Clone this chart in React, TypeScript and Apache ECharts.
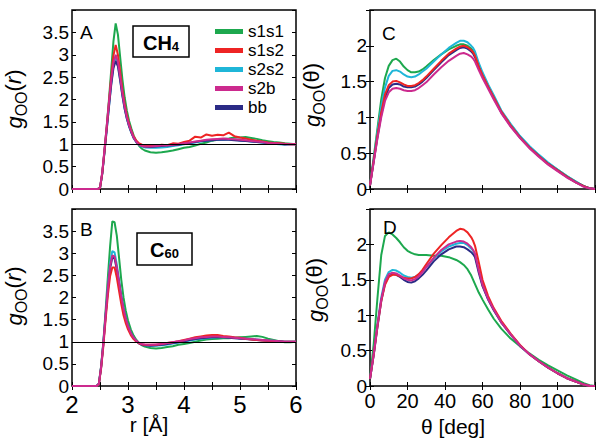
import React, { useEffect, useRef } from "react";
import * as echarts from "echarts";

const FONT = "'Liberation Sans', Arial, Helvetica, sans-serif";

const seriesNames = ["s1s1", "s1s2", "s2s2", "s2b", "bb"];
const seriesColors = ["#1da84e", "#ee2424", "#1fb6d8", "#cc2a8e", "#2b2b86"];
const drawOrder = [0, 2, 4, 1, 3];

// r grids (Å)
const rTail = [3.4, 3.5, 3.6, 3.7, 3.8, 3.9, 4.0, 4.1, 4.2, 4.3, 4.4, 4.5, 4.6, 4.7, 4.8, 4.9, 5.0, 5.1, 5.2, 5.3, 5.4, 5.5, 5.6, 5.7, 5.8, 5.9, 6.0];
const rPeakA = [2.0, 2.46, 2.5, 2.54, 2.58, 2.62, 2.66, 2.7, 2.74, 2.78, 2.82, 2.86, 2.9, 2.94, 2.98, 3.02, 3.06, 3.1, 3.15, 3.2, 3.25, 3.3];
const rPeakB = [2.0, 2.44, 2.48, 2.52, 2.56, 2.6, 2.64, 2.68, 2.72, 2.76, 2.8, 2.84, 2.88, 2.92, 2.96, 3.0, 3.05, 3.1, 3.15, 3.2, 3.25, 3.3];
const rA = [...rPeakA, ...rTail];
const rB = [...rPeakB, ...rTail];

// Panel A: CH4, g_OO(r)
const ch4_s1s1 = [0, 0, 0.02, 0.35, 0.85, 1.4, 2.0, 2.65, 3.3, 3.7, 3.45, 2.95, 2.45, 2.05, 1.75, 1.52, 1.35, 1.2, 1.06, 0.96, 0.9, 0.86,
  0.82, 0.81, 0.82, 0.84, 0.86, 0.89, 0.92, 0.94, 0.97, 1.01, 1.04, 1.08, 1.1, 1.12, 1.13, 1.15, 1.15, 1.16, 1.14, 1.12, 1.09, 1.07, 1.05, 1.04, 1.02, 1.01, 1.0];
const ch4_s1s2 = [0, 0, 0.02, 0.35, 0.85, 1.38, 1.95, 2.5, 2.98, 3.22, 3.0, 2.62, 2.22, 1.9, 1.65, 1.45, 1.3, 1.18, 1.08, 1.02, 0.99, 0.98,
  0.97, 0.96, 0.99, 0.98, 1.02, 1.01, 1.05, 1.08, 1.17, 1.15, 1.22, 1.19, 1.21, 1.2, 1.26, 1.18, 1.15, 1.13, 1.1, 1.08, 1.06, 1.04, 1.03, 1.02, 1.01, 1.0, 1.0];
const ch4_s2s2 = [0, 0, 0.02, 0.34, 0.83, 1.33, 1.85, 2.35, 2.75, 2.92, 2.78, 2.45, 2.1, 1.8, 1.57, 1.4, 1.26, 1.14, 1.04, 0.98, 0.95, 0.93,
  0.92, 0.92, 0.93, 0.94, 0.96, 0.98, 1.0, 1.02, 1.04, 1.06, 1.08, 1.09, 1.1, 1.1, 1.11, 1.1, 1.09, 1.08, 1.06, 1.05, 1.04, 1.02, 1.01, 1.0, 0.99, 1.0, 1.0];
const ch4_s2b = [0, 0, 0.03, 0.37, 0.88, 1.4, 1.93, 2.42, 2.82, 3.0, 2.84, 2.5, 2.14, 1.84, 1.6, 1.42, 1.28, 1.15, 1.05, 0.99, 0.96, 0.95,
  0.95, 0.96, 0.97, 0.98, 0.99, 1.0, 1.02, 1.04, 1.06, 1.08, 1.1, 1.11, 1.12, 1.13, 1.12, 1.11, 1.1, 1.09, 1.07, 1.06, 1.05, 1.03, 1.02, 1.01, 1.0, 1.0, 1.0];
const ch4_bb = [0, 0, 0.02, 0.34, 0.82, 1.32, 1.83, 2.32, 2.7, 2.86, 2.74, 2.42, 2.08, 1.79, 1.57, 1.4, 1.26, 1.14, 1.05, 0.99, 0.96, 0.95,
  0.94, 0.95, 0.96, 0.97, 0.98, 0.99, 1.01, 1.03, 1.05, 1.07, 1.08, 1.09, 1.1, 1.1, 1.1, 1.09, 1.08, 1.07, 1.06, 1.05, 1.04, 1.03, 1.02, 1.01, 1.0, 1.0, 1.0];

// Panel B: C60, g_OO(r)
const c60_s1s1 = [0, 0, 0.05, 0.45, 1.0, 1.7, 2.45, 3.15, 3.72, 3.7, 3.4, 2.9, 2.4, 2.0, 1.7, 1.48, 1.28, 1.14, 1.04, 0.97, 0.92, 0.89,
  0.86, 0.85, 0.86, 0.88, 0.9, 0.93, 0.95, 0.97, 1.0, 1.03, 1.05, 1.06, 1.07, 1.08, 1.08, 1.09, 1.1, 1.11, 1.12, 1.13, 1.11, 1.07, 1.04, 1.01, 0.99, 0.99, 1.0];
const c60_s1s2 = [0, 0, 0.04, 0.4, 0.9, 1.5, 2.05, 2.48, 2.68, 2.68, 2.45, 2.15, 1.85, 1.6, 1.42, 1.28, 1.15, 1.06, 1.0, 0.96, 0.94, 0.93,
  0.93, 0.93, 0.95, 0.97, 0.99, 1.01, 1.04, 1.07, 1.1, 1.12, 1.14, 1.15, 1.15, 1.13, 1.12, 1.1, 1.09, 1.07, 1.05, 1.04, 1.03, 1.02, 1.01, 1.0, 1.0, 1.0, 1.0];
const c60_s2s2 = [0, 0, 0.05, 0.43, 0.97, 1.62, 2.25, 2.78, 3.05, 3.02, 2.75, 2.4, 2.05, 1.76, 1.53, 1.36, 1.2, 1.09, 1.01, 0.96, 0.93, 0.92,
  0.91, 0.91, 0.92, 0.94, 0.96, 0.98, 1.0, 1.03, 1.05, 1.07, 1.08, 1.09, 1.1, 1.1, 1.1, 1.09, 1.08, 1.07, 1.06, 1.05, 1.04, 1.03, 1.02, 1.01, 1.0, 1.0, 1.0];
const c60_s2b = [0, 0, 0.05, 0.43, 0.97, 1.6, 2.2, 2.7, 2.95, 2.93, 2.68, 2.35, 2.02, 1.74, 1.52, 1.35, 1.2, 1.09, 1.02, 0.97, 0.95, 0.94,
  0.93, 0.94, 0.95, 0.97, 0.99, 1.01, 1.03, 1.06, 1.08, 1.1, 1.11, 1.12, 1.12, 1.11, 1.1, 1.09, 1.08, 1.07, 1.06, 1.05, 1.04, 1.03, 1.02, 1.01, 1.0, 1.0, 1.0];
const c60_bb = [0, 0, 0.05, 0.42, 0.95, 1.57, 2.16, 2.65, 2.9, 2.88, 2.64, 2.32, 2.0, 1.73, 1.51, 1.34, 1.19, 1.08, 1.01, 0.96, 0.93, 0.92,
  0.91, 0.92, 0.93, 0.95, 0.97, 0.99, 1.01, 1.04, 1.06, 1.08, 1.09, 1.1, 1.1, 1.1, 1.09, 1.08, 1.07, 1.06, 1.05, 1.04, 1.03, 1.02, 1.01, 1.01, 1.0, 1.0, 1.0];

// theta grid (deg)
const theta = [0, 2, 4, 6, 8, 10, 12, 14, 16, 18, 20, 22, 24, 26, 28, 30, 34, 38, 42, 46, 48, 50, 52, 54, 55, 56, 58, 60, 63, 66, 70, 75, 80, 85, 90, 95, 100, 105, 110, 114, 117, 120];

// Panel C: CH4, g_OO(theta)
const thC_s1s1 = [0.05, 0.45, 0.85, 1.25, 1.55, 1.72, 1.8, 1.82, 1.78, 1.71, 1.66, 1.63, 1.63, 1.64, 1.67, 1.71, 1.8, 1.88, 1.95, 2.0,
  2.02, 2.02, 2.0, 1.96, 1.93, 1.87, 1.72, 1.6, 1.44, 1.29, 1.08, 0.9, 0.73, 0.59, 0.47, 0.36, 0.27, 0.18, 0.1, 0.04, 0.01, 0.0];
const thC_s1s2 = [0.05, 0.4, 0.75, 1.07, 1.32, 1.45, 1.5, 1.51, 1.49, 1.46, 1.44, 1.44, 1.45, 1.48, 1.52, 1.57, 1.68, 1.79, 1.89, 1.96,
  1.99, 2.0, 1.98, 1.94, 1.91, 1.86, 1.71, 1.59, 1.43, 1.28, 1.08, 0.89, 0.72, 0.58, 0.46, 0.35, 0.26, 0.17, 0.09, 0.04, 0.01, 0.0];
const thC_s2s2 = [0.05, 0.42, 0.8, 1.15, 1.42, 1.58, 1.65, 1.66, 1.64, 1.6, 1.57, 1.56, 1.57, 1.6, 1.64, 1.68, 1.78, 1.88, 1.97, 2.04,
  2.07, 2.07, 2.05, 2.0, 1.97, 1.92, 1.76, 1.63, 1.46, 1.31, 1.1, 0.91, 0.74, 0.6, 0.48, 0.37, 0.27, 0.18, 0.1, 0.04, 0.01, 0.0];
const thC_s2b = [0.05, 0.38, 0.71, 1.0, 1.23, 1.35, 1.4, 1.41, 1.4, 1.38, 1.37, 1.37, 1.38, 1.41, 1.45, 1.49, 1.6, 1.7, 1.79, 1.86,
  1.89, 1.9, 1.88, 1.85, 1.82, 1.78, 1.66, 1.55, 1.4, 1.25, 1.06, 0.87, 0.71, 0.57, 0.45, 0.34, 0.25, 0.16, 0.09, 0.03, 0.01, 0.0];
const thC_bb = [0.05, 0.39, 0.73, 1.04, 1.28, 1.41, 1.46, 1.47, 1.46, 1.43, 1.42, 1.42, 1.43, 1.46, 1.5, 1.55, 1.66, 1.77, 1.87, 1.94,
  1.97, 1.98, 1.96, 1.92, 1.89, 1.84, 1.7, 1.58, 1.42, 1.27, 1.07, 0.88, 0.72, 0.58, 0.46, 0.35, 0.26, 0.17, 0.09, 0.04, 0.01, 0.0];

// Panel D: C60, g_OO(theta)
const thD_s1s1 = [0.1, 0.6, 1.25, 1.85, 2.12, 2.17, 2.14, 2.09, 2.03, 1.96, 1.91, 1.88, 1.86, 1.85, 1.85, 1.85, 1.84, 1.84, 1.82, 1.78,
  1.75, 1.71, 1.65, 1.56, 1.5, 1.44, 1.32, 1.22, 1.08, 0.95, 0.81, 0.67, 0.56, 0.46, 0.37, 0.29, 0.22, 0.15, 0.09, 0.04, 0.01, 0.0];
const thD_s1s2 = [0.1, 0.45, 0.85, 1.2, 1.43, 1.54, 1.57, 1.57, 1.55, 1.53, 1.52, 1.52, 1.54, 1.58, 1.64, 1.72, 1.87, 1.99, 2.1, 2.19,
  2.22, 2.21, 2.17, 2.1, 2.05, 1.98, 1.75, 1.5, 1.27, 1.1, 0.92, 0.74, 0.58, 0.45, 0.35, 0.26, 0.18, 0.11, 0.06, 0.02, 0.005, 0.0];
const thD_s2s2 = [0.1, 0.46, 0.88, 1.25, 1.5, 1.61, 1.64, 1.63, 1.6, 1.56, 1.54, 1.53, 1.54, 1.57, 1.62, 1.68, 1.8, 1.9, 1.97, 2.01,
  2.02, 2.02, 1.99, 1.94, 1.91, 1.86, 1.63, 1.43, 1.23, 1.08, 0.9, 0.73, 0.57, 0.45, 0.35, 0.26, 0.18, 0.11, 0.06, 0.02, 0.005, 0.0];
const thD_s2b = [0.1, 0.45, 0.86, 1.22, 1.47, 1.58, 1.6, 1.59, 1.56, 1.52, 1.5, 1.49, 1.51, 1.55, 1.61, 1.68, 1.81, 1.92, 2.0, 2.04,
  2.05, 2.04, 2.01, 1.96, 1.92, 1.87, 1.63, 1.43, 1.23, 1.08, 0.9, 0.73, 0.57, 0.45, 0.35, 0.26, 0.18, 0.11, 0.06, 0.02, 0.005, 0.0];
const thD_bb = [0.1, 0.44, 0.84, 1.2, 1.45, 1.55, 1.58, 1.57, 1.54, 1.5, 1.47, 1.46, 1.48, 1.52, 1.57, 1.63, 1.76, 1.86, 1.93, 1.97,
  1.97, 1.96, 1.93, 1.89, 1.86, 1.82, 1.6, 1.41, 1.22, 1.07, 0.9, 0.73, 0.57, 0.45, 0.35, 0.26, 0.18, 0.11, 0.06, 0.02, 0.005, 0.0];

const rTicks = { min: 2, max: 6, interval: 0.5 };
const thetaTicks = { min: 0, max: 120, interval: 20 };
const gRTicks = { min: 0, max: 4, interval: 0.5 };
const gThetaTicks = { min: 0, max: 2.5, interval: 0.5 };

const panels = [
  { xs: rA, sets: [ch4_s1s1, ch4_s1s2, ch4_s2s2, ch4_s2b, ch4_bb], refLine: true },
  { xs: rB, sets: [c60_s1s1, c60_s1s2, c60_s2s2, c60_s2b, c60_bb], refLine: true },
  { xs: theta, sets: [thC_s1s1, thC_s1s2, thC_s2s2, thC_s2b, thC_bb], refLine: false },
  { xs: theta, sets: [thD_s1s1, thD_s1s2, thD_s2s2, thD_s2b, thD_bb], refLine: false },
];

const isMult = (v: number, step: number, maxHide: number) =>
  Math.abs(v / step - Math.round(v / step)) < 1e-6 && Math.abs(v - maxHide) > 1e-6;

export default function App() {
  const ref = useRef<HTMLDivElement>(null);
  useEffect(() => {
    if (!ref.current) return;
    const chart = echarts.init(ref.current, undefined, { renderer: "svg" });

    const grids = [
      { left: 72, top: 10, width: 224, height: 179 },
      { left: 72, top: 209, width: 224, height: 177 },
      { left: 370, top: 10, width: 225, height: 179 },
      { left: 370, top: 209, width: 225, height: 177 },
    ].map((g) => ({ ...g, show: true, borderColor: "#000", borderWidth: 1.5, backgroundColor: "transparent" }));

    const tick = { show: true, inside: true, length: 4, lineStyle: { color: "#000", width: 1 } };

    const xCfg = [
      { t: rTicks, label: false, fs: 24, step: 1 },
      { t: rTicks, label: true, fs: 24, step: 1 },
      { t: thetaTicks, label: false, fs: 20, step: 20 },
      { t: thetaTicks, label: true, fs: 20, step: 20 },
    ];
    const yCfg = [gRTicks, gRTicks, gThetaTicks, gThetaTicks];

    const xAxes: any[] = [];
    const yAxes: any[] = [];
    for (let k = 0; k < 2; k++) {
      for (let i = 0; i < 4; i++) {
        const c = xCfg[i];
        xAxes.push({
          type: "value",
          gridIndex: i,
          position: k === 0 ? "bottom" : "top",
          min: c.t.min,
          max: c.t.max,
          interval: c.t.interval,
          axisLine: { show: false },
          splitLine: { show: false },
          axisTick: tick,
          axisLabel: {
            show: k === 0 && c.label,
            fontSize: c.fs,
            fontFamily: FONT,
            color: "#000",
            margin: i === 3 ? 5 : 6,
            formatter: (v: number) => (isMult(v, c.step, i === 3 ? 120 : 1e9) ? String(Math.round(v)) : ""),
          },
        });
        const y = yCfg[i];
        yAxes.push({
          type: "value",
          gridIndex: i,
          position: k === 0 ? "left" : "right",
          min: y.min,
          max: y.max,
          interval: y.interval,
          axisLine: { show: false },
          splitLine: { show: false },
          axisTick: tick,
          axisLabel: {
            show: k === 0,
            fontSize: 19,
            fontFamily: FONT,
            color: "#000",
            margin: 3,
            formatter: (v: number) => (Math.abs(v - y.max) < 1e-6 ? "" : String(Math.round(v * 10) / 10)),
          },
        });
      }
    }

    const series: any[] = [];
    panels.forEach((p, pi) => {
      drawOrder.forEach((si, oi) => {
        const s: any = {
          type: "line",
          name: seriesNames[si],
          xAxisIndex: pi,
          yAxisIndex: pi,
          data: p.xs.map((x, j) => [x, p.sets[si][j]]),
          showSymbol: false,
          symbol: "none",
          silent: true,
          color: seriesColors[si],
          itemStyle: { color: seriesColors[si] },
          lineStyle: { color: seriesColors[si], width: 2 },
          z: 2,
        };
        if (p.refLine && oi === drawOrder.length - 1) {
          s.markLine = {
            silent: true,
            symbol: "none",
            label: { show: false },
            lineStyle: { color: "#000", width: 1, type: "solid" },
            data: [{ yAxis: 1 }],
            z: 5,
          };
        }
        series.push(s);
      });
    });

    // Rotated y-axis title built from pieces: g (italic), OO subscript, (arg)
    const yTitle = (cx: number, cy: number, arg: string) => {
      const big = 22;
      const small = 16;
      const wG = 0.556 * big;
      const wS = 0.778 * small * 2;
      const wP = 0.333 * big;
      const wArg = arg === "r" ? 0.333 * big : 0.556 * big;
      const total = wG + wS + wP + wArg + wP;
      let x0 = -total / 2;
      const base = 4; // local baseline (bottom) of main glyphs
      const pieces: any[] = [];
      const add = (t: string, fs: number, italic: boolean, w: number, bottom: number) => {
        pieces.push({
          type: "text",
          x: x0,
          y: bottom,
          style: {
            text: t,
            fontFamily: FONT,
            fontSize: fs,
            fontStyle: italic ? "italic" : "normal",
            fill: "#000",
            align: "left",
            verticalAlign: "bottom",
          },
        });
        x0 += w;
      };
      add("g", big, true, wG, base + 1);
      add("OO", small, false, wS, base + 5);
      add("(", big, false, wP, base);
      add(arg, big, arg === "r", wArg, base);
      add(")", big, false, wP, base);
      return { type: "group", x: cx, y: cy, rotation: Math.PI / 2, z: 10, children: pieces };
    };

    const letter = (t: string, x: number, y: number) => ({
      type: "text",
      x,
      y,
      z: 10,
      style: { text: t, fontFamily: FONT, fontSize: 19, fill: "#000", verticalAlign: "middle" },
    });

    const box = (x: number, y: number, w: number, h: number, main: string, sub: string) => [
      {
        type: "rect",
        z: 10,
        shape: { x, y, width: w, height: h },
        style: { fill: "#fff", stroke: "#000", lineWidth: 1.5 },
      },
      {
        type: "text",
        z: 11,
        x: x + w / 2,
        y: y + h / 2,
        style: {
          text: `{a|${main}}{b|${sub}}`,
          align: "center",
          verticalAlign: "middle",
          fill: "#000",
          rich: {
            a: { fontFamily: FONT, fontSize: 20, fontWeight: "bold", lineHeight: 22, verticalAlign: "bottom" },
            b: { fontFamily: FONT, fontSize: 13, fontWeight: "bold", lineHeight: 16, verticalAlign: "bottom" },
          },
        },
      },
    ];

    chart.setOption({
      animation: false,
      backgroundColor: "#fff",
      grid: grids,
      xAxis: xAxes,
      yAxis: yAxes,
      legend: {
        data: seriesNames,
        orient: "vertical",
        left: 215,
        top: 23,
        itemWidth: 28,
        itemHeight: 5,
        itemGap: 2,
        icon: "rect",
        selectedMode: false,
        textStyle: { fontFamily: FONT, fontSize: 17, color: "#000" },
        padding: 0,
        z: 20,
      },
      series,
      graphic: [
        letter("A", 80, 32),
        letter("B", 80, 229),
        letter("C", 382, 33),
        letter("D", 383, 227),
        ...box(133, 26, 56, 31, "CH", "4"),
        ...box(137, 233, 55, 32, "C", "60"),
        yTitle(20, 99, "r"),
        yTitle(20, 296, "r"),
        yTitle(318, 95, "θ"),
        yTitle(321, 290, "θ"),
        {
          type: "text",
          x: 149,
          y: 424,
          z: 10,
          style: { text: "r [Å]", fontFamily: FONT, fontSize: 21, fill: "#000", align: "center", verticalAlign: "middle" },
        },
        {
          type: "text",
          x: 453,
          y: 426,
          z: 10,
          style: { text: "θ [deg]", fontFamily: FONT, fontSize: 21, fill: "#000", align: "center", verticalAlign: "middle" },
        },
      ],
    });
    return () => chart.dispose();
  }, []);
  return <div ref={ref} style={{ position: "absolute", left: 0, top: 0, width: 602, height: 445 }} />;
}
